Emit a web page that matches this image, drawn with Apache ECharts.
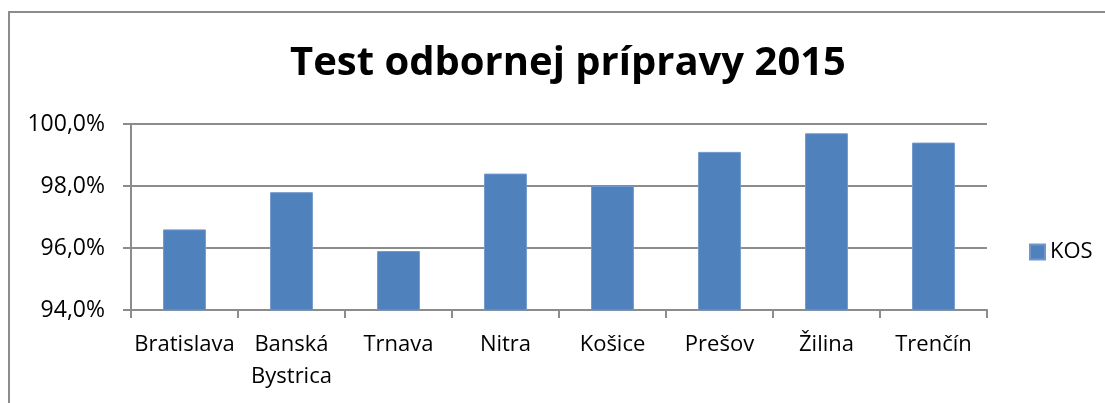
<!DOCTYPE html>
<html>
<head>
<meta charset="utf-8">
<script src="https://cdn.jsdelivr.net/npm/echarts@6/dist/echarts.min.js"></script>
<style>
html,body{margin:0;padding:0;background:#fff;}
#c{width:1105px;height:403px;}
</style>
</head>
<body>
<div id="c"></div>
<script>
const titleText = 'Test odbornej prípravy 2015';
const categories = ['Bratislava', 'Banská\nBystrica', 'Trnava', 'Nitra', 'Košice', 'Prešov', 'Žilina', 'Trenčín'];
const seriesName = 'KOS';
const kosValues = [96.6, 97.8, 95.9, 98.4, 98.0, 99.1, 99.7, 99.4];
const yMin = 94, yMax = 100, yStep = 2;

const font = '"Open Sans", sans-serif';
const chart = echarts.init(document.getElementById('c'), null, {renderer: 'canvas'});
chart.setOption({
  backgroundColor: '#ffffff',
  animation: false,
  graphic: [{
    type: 'rect', z: -1, silent: true,
    shape: {x: 9, y: 12, width: 1200, height: 500},
    style: {fill: 'none', stroke: '#8c8c8c', lineWidth: 2}
  }],
  title: {
    text: titleText,
    left: 563, top: 39, textAlign: 'center',
    textStyle: {fontFamily: font, fontSize: 40, fontWeight: 'bold', color: '#000'}
  },
  legend: {
    data: [seriesName],
    left: 1029, top: 241, padding: 0,
    itemWidth: 15, itemHeight: 15, itemGap: 6,
    icon: 'rect',
    textStyle: {fontFamily: font, fontSize: 22, color: '#000', padding: [0,0,0,0]}
  },
  grid: {left: 131, right: 118, top: 124, bottom: 93, containLabel: false},
  xAxis: {
    type: 'category',
    data: categories,
    axisLine: {lineStyle: {color: '#8c8c8c', width: 2}},
    axisTick: {show: true, length: 8, lineStyle: {color: '#8c8c8c', width: 2}},
    axisLabel: {fontFamily: font, fontSize: 22, color: '#000', margin: 19, lineHeight: 32, interval: 0}
  },
  yAxis: {
    type: 'value',
    min: yMin, max: yMax, interval: yStep,
    axisLine: {show: true, lineStyle: {color: '#8c8c8c', width: 2}},
    axisTick: {show: true, length: 8, lineStyle: {color: '#8c8c8c', width: 2}},
    splitLine: {lineStyle: {color: '#8c8c8c', width: 2}},
    axisLabel: {
      fontFamily: font, fontSize: 23, color: '#000', margin: 26,
      formatter: v => v.toFixed(1).replace('.', ',') + '%'
    }
  },
  series: [{
    name: seriesName,
    type: 'bar',
    data: kosValues,
    barWidth: '40%',
    itemStyle: {color: '#4f81bd', borderColor: '#6f97cb', borderWidth: 1}
  }]
});
</script>
</body>
</html>
